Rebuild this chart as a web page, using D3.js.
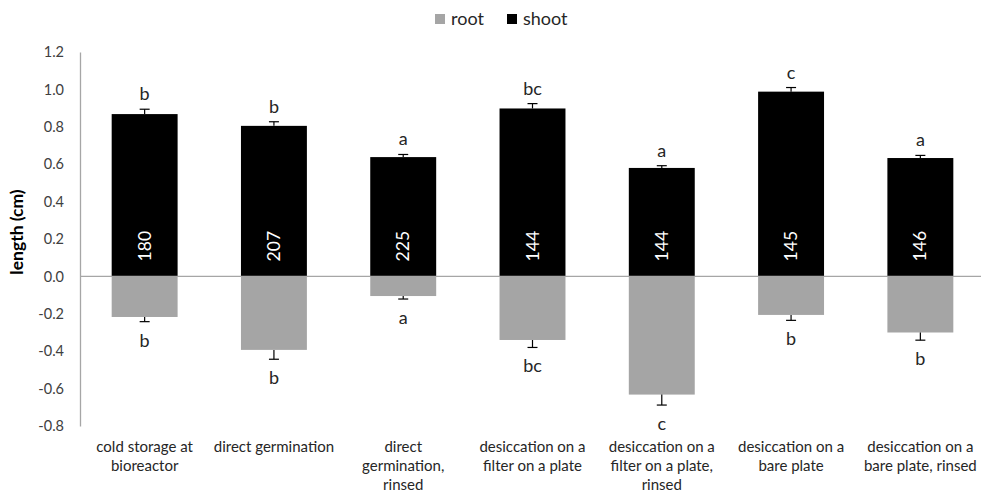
<!DOCTYPE html>
<html>
<head>
<meta charset="utf-8">
<script src="https://cdn.jsdelivr.net/npm/d3@7"></script>
<style>
  body { margin: 0; background: #fff; }
  text { font-family: Lato, "Open Sans", sans-serif; }
</style>
</head>
<body>
<svg id="svg" width="981" height="495"></svg>
<script>
// categories (x axis labels, one entry per line)
var catLines = [
    ["cold storage at", "bioreactor"],
    ["direct germination"],
    ["direct", "germination,", "rinsed"],
    ["desiccation on a", "filter on a plate"],
    ["desiccation on a", "filter on a plate,", "rinsed"],
    ["desiccation on a", "bare plate"],
    ["desiccation on a", "bare plate, rinsed"]
];
var shoot = [0.868, 0.805, 0.638, 0.898, 0.580, 0.988, 0.633];
var shootErr = [0.026, 0.022, 0.014, 0.026, 0.012, 0.022, 0.014];
var root = [-0.217, -0.393, -0.105, -0.340, -0.632, -0.206, -0.300];
var rootErr = [0.025, 0.050, 0.016, 0.040, 0.056, 0.029, 0.041];
var shootLetters = ["b", "b", "a", "bc", "a", "c", "a"];
var rootLetters = ["b", "b", "a", "bc", "c", "b", "b"];
var counts = [180, 207, 225, 144, 144, 145, 146];
var yTicks = [-0.8, -0.6, -0.4, -0.2, 0.0, 0.2, 0.4, 0.6, 0.8, 1.0, 1.2];

var rootColor = "#a5a5a5", shootColor = "#000000", axisColor = "#a6a6a6", textColor = "#262626";

var svg = d3.select("#svg");
var idx = d3.range(catLines.length);

var x = d3.scaleBand().domain(idx).range([80, 985]).paddingInner(0.49).paddingOuter(0.245);
var y = d3.scaleLinear().domain([-0.8, 1.2]).range([426, 52]);

// y axis
var yAxis = d3.axisLeft(y).tickValues(yTicks).tickSize(0).tickPadding(16)
    .tickFormat(function (d) { return d.toFixed(1); });
var gy = svg.append("g").attr("transform", "translate(80,0)").call(yAxis);
gy.select(".domain").attr("stroke", axisColor).attr("stroke-width", 1.3);
gy.selectAll("text").attr("font-size", "14.5px").attr("fill", "#404040")
    .style("font-family", "Lato, sans-serif");

// y title
svg.append("text")
    .attr("transform", "translate(23," + 232 + ") rotate(-90)")
    .attr("text-anchor", "middle")
    .attr("font-size", "17.5px")
    .attr("font-weight", "bold")
    .attr("fill", "#000")
    .text("length (cm)");

// bars
svg.selectAll("rect.shoot").data(idx).enter().append("rect")
    .attr("class", "shoot")
    .attr("x", function (i) { return x(i); })
    .attr("width", x.bandwidth())
    .attr("y", function (i) { return y(shoot[i]); })
    .attr("height", function (i) { return y(0) - y(shoot[i]); })
    .attr("fill", shootColor);

svg.selectAll("rect.root").data(idx).enter().append("rect")
    .attr("class", "root")
    .attr("x", function (i) { return x(i); })
    .attr("width", x.bandwidth())
    .attr("y", y(0))
    .attr("height", function (i) { return y(root[i]) - y(0); })
    .attr("fill", rootColor);

// zero line
svg.append("line")
    .attr("x1", 80).attr("x2", 981)
    .attr("y1", y(0)).attr("y2", y(0))
    .attr("stroke", axisColor).attr("stroke-width", 1.3);

// error bars
var cap = 5;
function errBar(vals, errs, cls, sign) {
    var g = svg.selectAll("g." + cls).data(idx).enter().append("g").attr("class", cls);
    g.append("line")
        .attr("x1", function (i) { return x(i) + x.bandwidth() / 2; })
        .attr("x2", function (i) { return x(i) + x.bandwidth() / 2; })
        .attr("y1", function (i) { return y(vals[i]); })
        .attr("y2", function (i) { return y(vals[i] + sign * errs[i]); })
        .attr("stroke", "#000").attr("stroke-width", 1.2);
    g.append("line")
        .attr("x1", function (i) { return x(i) + x.bandwidth() / 2 - cap; })
        .attr("x2", function (i) { return x(i) + x.bandwidth() / 2 + cap; })
        .attr("y1", function (i) { return y(vals[i] + sign * errs[i]); })
        .attr("y2", function (i) { return y(vals[i] + sign * errs[i]); })
        .attr("stroke", "#000").attr("stroke-width", 1.2);
}
errBar(shoot, shootErr, "errShoot", 1);
errBar(root, rootErr, "errRoot", -1);

// significance letters
svg.selectAll("text.ls").data(idx).enter().append("text")
    .attr("class", "ls")
    .attr("x", function (i) { return x(i) + x.bandwidth() / 2; })
    .attr("y", function (i) { return y(shoot[i] + shootErr[i]) - 9; })
    .attr("text-anchor", "middle")
    .attr("font-size", "18px")
    .attr("fill", textColor)
    .text(function (i) { return shootLetters[i]; });

svg.selectAll("text.lr").data(idx).enter().append("text")
    .attr("class", "lr")
    .attr("x", function (i) { return x(i) + x.bandwidth() / 2; })
    .attr("y", function (i) { return y(root[i] - rootErr[i]) + 25; })
    .attr("text-anchor", "middle")
    .attr("font-size", "18px")
    .attr("fill", textColor)
    .text(function (i) { return rootLetters[i]; });

// counts inside the bars
svg.selectAll("text.n").data(idx).enter().append("text")
    .attr("class", "n")
    .attr("transform", function (i) {
        return "translate(" + (x(i) + x.bandwidth() / 2) + "," + (y(0) - 15) + ") rotate(-90)";
    })
    .attr("dy", "0.35em")
    .attr("font-size", "17.5px")
    .attr("fill", "#fff")
    .text(function (i) { return counts[i]; });

// category labels
var cl = svg.selectAll("text.cat").data(idx).enter().append("text")
    .attr("class", "cat")
    .attr("text-anchor", "middle")
    .attr("font-size", "15px")
    .attr("fill", textColor);
cl.selectAll("tspan").data(function (i) {
        return catLines[i].map(function (t) { return { t: t, i: i }; });
    })
    .enter().append("tspan")
    .attr("x", function (d) { return x(d.i) + x.bandwidth() / 2; })
    .attr("y", function (d, k) { return 452 + k * 19; })
    .text(function (d) { return d.t; });

// legend
var legend = [["root", rootColor, 435], ["shoot", shootColor, 507]];
var lg = svg.selectAll("g.leg").data(legend).enter().append("g").attr("class", "leg");
lg.append("rect")
    .attr("x", function (d) { return d[2]; }).attr("y", 14)
    .attr("width", 10).attr("height", 10)
    .attr("fill", function (d) { return d[1]; });
lg.append("text")
    .attr("x", function (d) { return d[2] + 16; }).attr("y", 25)
    .attr("font-size", "18px")
    .attr("fill", textColor)
    .text(function (d) { return d[0]; });
</script>
</body>
</html>
